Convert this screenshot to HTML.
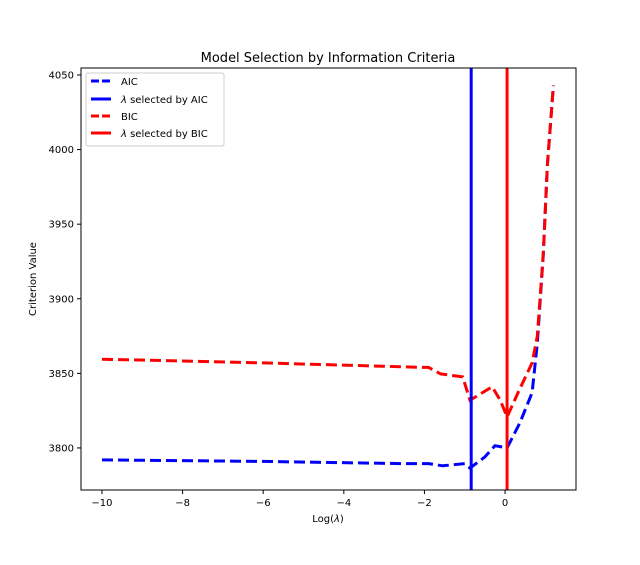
<!DOCTYPE html>
<html><head><meta charset="utf-8"><style>
body{margin:0;background:#fff;font-family:"Liberation Sans","DejaVu Sans",sans-serif}
</style></head><body>
<svg width="640" height="560" xmlns="http://www.w3.org/2000/svg" font-family="DejaVu Sans, Liberation Sans, sans-serif">
<rect width="640" height="560" fill="#fff"/>
<text x="328" y="62" text-anchor="middle" font-size="13">Model Selection by Information Criteria</text>
<g id="plot"></g>
<text x="328" y="522" text-anchor="middle" font-size="10">Log(<tspan font-style="italic">λ</tspan>)</text>
<text transform="translate(36,279) rotate(-90)" text-anchor="middle" font-size="10">Criterion Value</text>
<g>
<rect x="86" y="73" width="138" height="73" fill="#fff" stroke="#ccc" rx="2"/>
<line x1="91" y1="81" x2="111" y2="81" stroke="#00f" stroke-width="3" stroke-dasharray="8,3"/>
<text x="121" y="85" font-size="10">AIC</text>
<line x1="91" y1="99" x2="111" y2="99" stroke="#00f" stroke-width="3"/>
<text x="121" y="103" font-size="10"><tspan font-style="italic">λ</tspan> selected by AIC</text>
<line x1="91" y1="116" x2="111" y2="116" stroke="#f00" stroke-width="3" stroke-dasharray="8,3"/>
<text x="121" y="120" font-size="10">BIC</text>
<line x1="91" y1="133" x2="111" y2="133" stroke="#f00" stroke-width="3"/>
<text x="121" y="137" font-size="10"><tspan font-style="italic">λ</tspan> selected by BIC</text>
</g>
</svg>
<script>
const aicX=[-10,-6,-2.6,-1.9,-1.55,-1.0,-0.87,-0.5,-0.25,0.05,0.37,0.67,0.8,0.95,1.05,1.2];
const aicY=[3792,3791,3789.5,3789.5,3788,3789.5,3786.5,3794,3801.5,3800,3817,3837,3870,3930,3990,4043];
const bicX=[-10,-6,-2,-1.9,-1.6,-1.05,-0.87,-0.32,-0.12,0.05,0.32,0.67,0.8,0.95,1.05,1.2];
const bicY=[3859.5,3857,3854,3854,3849.6,3847.6,3832,3841,3832,3820.8,3837,3857,3875,3930,3990,4043];
const selAIC=-0.84, selBIC=0.05;
const xTicks=[-10,-8,-6,-4,-2,0];
const yTicks=[3800,3850,3900,3950,4000,4050];
const L=81,R=576,T=68,B=490,xmin=-10.52,xmax=1.76,ymin=3771.8,ymax=4054.7;
const sx=v=>L+(v-xmin)/(xmax-xmin)*(R-L);
const sy=v=>B-(v-ymin)/(ymax-ymin)*(B-T);
const NS="http://www.w3.org/2000/svg";
const g=document.getElementById('plot');
function mk(t,a){const e=document.createElementNS(NS,t);for(const k in a)e.setAttribute(k,a[k]);g.appendChild(e);return e;}
function path(xs,ys){return xs.map((x,i)=>(i?'L':'M')+sx(x).toFixed(1)+','+sy(ys[i]).toFixed(1)).join('');}
let e;
e=mk('path',{d:path(aicX,aicY),fill:'none',stroke:'#00f','stroke-width':3,'stroke-dasharray':'11,5'});


e=mk('path',{d:path(bicX,bicY),fill:'none',stroke:'#f00','stroke-width':3,'stroke-dasharray':'11,5'});


e=mk('line',{x1:sx(selAIC),x2:sx(selAIC),y1:T,y2:B,stroke:'#00f','stroke-width':3});


e=mk('line',{x1:sx(selBIC),x2:sx(selBIC),y1:T,y2:B,stroke:'#f00','stroke-width':3});


e=mk('rect',{x:L,y:T,width:R-L,height:B-T,fill:'none',stroke:'#000','stroke-width':1});


xTicks.forEach(v=>{const x=sx(v);
mk('line',{x1:x,x2:x,y1:B,y2:B+4,stroke:'#000'});
e=mk('text',{x:x,y:B+16,'text-anchor':'middle','font-size':10});e.textContent=v<0?'−'+(-v):v;

});
yTicks.forEach(v=>{const y=sy(v);
mk('line',{x1:L-4,x2:L,y1:y,y2:y,stroke:'#000'});
e=mk('text',{x:L-7,y:y+3.5,'text-anchor':'end','font-size':10});e.textContent=v;

});
</script>
</body></html>
